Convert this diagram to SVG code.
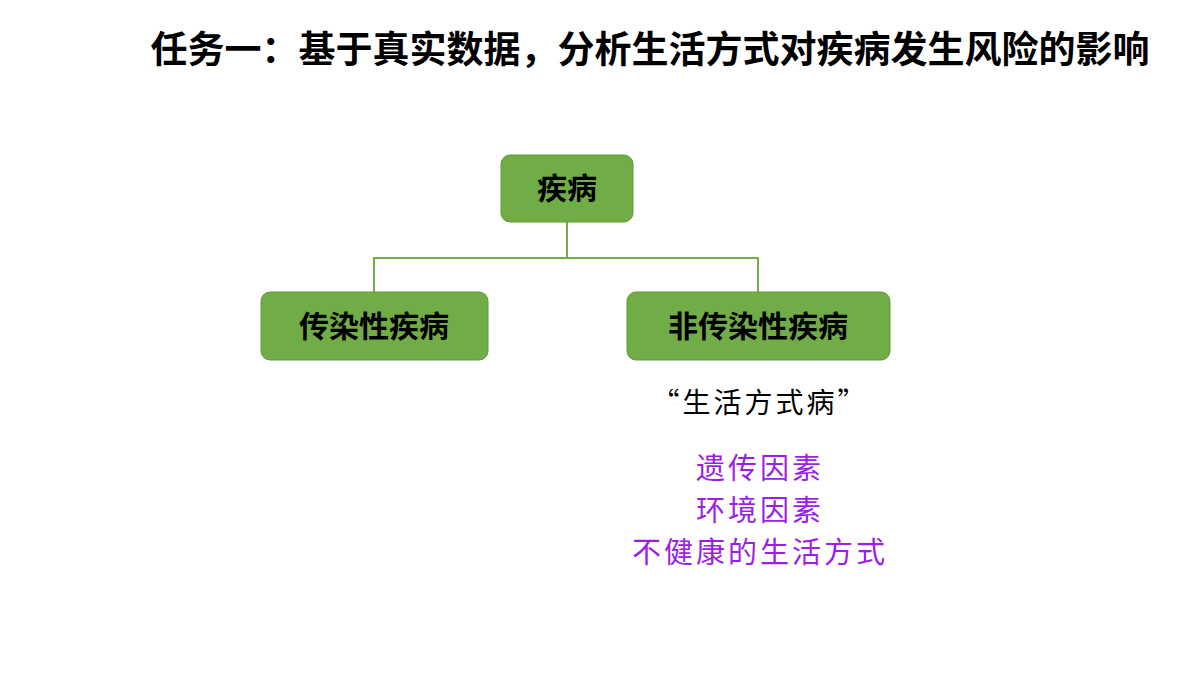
<svg xmlns="http://www.w3.org/2000/svg" width="1200" height="675" viewBox="0 0 1200 675">
<style>
.box{fill:#70AD47;stroke:#5E9A3A;stroke-width:1}
.nt{font-family:"Noto Sans CJK SC",sans-serif;font-weight:bold;font-size:30px;fill:#000;text-anchor:middle}
.pt{font-family:"Noto Sans CJK SC",sans-serif;font-size:29px;fill:#9B1FE8;text-anchor:middle;letter-spacing:3px}
</style>
<rect width="1200" height="675" fill="#fff"/>
<text x="650" y="63" font-family="Noto Sans CJK SC,sans-serif" font-weight="bold" font-size="37" text-anchor="middle" fill="#000">任务一：基于真实数据，分析生活方式对疾病发生风险的影响</text>
<g id="connectors" fill="none" stroke="#70AD47" stroke-width="2">
<path d="M567 222V258M374 292V258H758V292"/>
</g>
<g id="n1"><rect class="box" x="501" y="155" width="132" height="67" rx="9"/><text class="nt" x="567" y="199">疾病</text></g>
<g id="n2"><rect class="box" x="261" y="292" width="227" height="68" rx="9"/><text class="nt" x="374" y="337">传染性疾病</text></g>
<g id="n3"><rect class="box" x="627" y="292" width="263" height="68" rx="9"/><text class="nt" x="758" y="337">非传染性疾病</text></g>
<text x="760" y="413" font-family="Noto Sans CJK SC,sans-serif" font-size="28" text-anchor="middle" fill="#000" letter-spacing="3">“生活方式病”</text>
<text class="pt" x="760" y="479">遗传因素</text>
<text class="pt" x="760" y="521">环境因素</text>
<text class="pt" x="760" y="563">不健康的生活方式</text>
</svg>
